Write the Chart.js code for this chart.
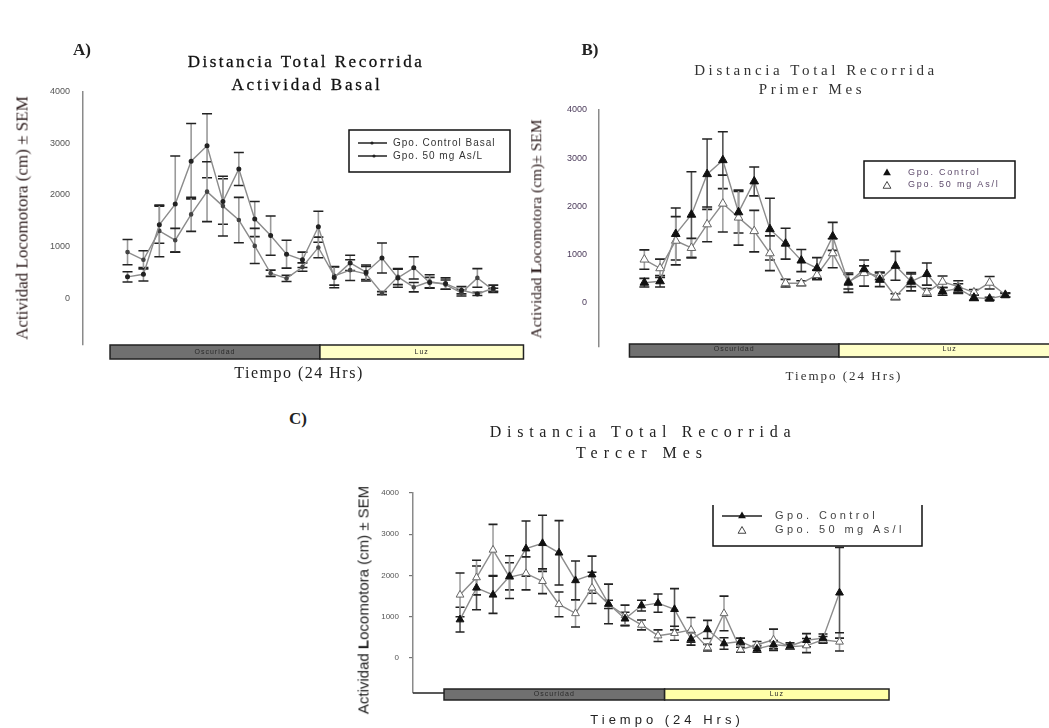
<!DOCTYPE html>
<html><head><meta charset="utf-8">
<script src="https://cdn.jsdelivr.net/npm/chart.js@4.4.1/dist/chart.umd.min.js"></script>
<style>
body{margin:0;width:1049px;height:728px;background:#fff;position:relative;overflow:hidden;}
canvas{position:absolute;}
.t{position:absolute;white-space:nowrap;transform:translate(-50%,-50%);line-height:1;color:#222;}
.rot{transform:translate(-50%,-50%) rotate(-90deg);}
.serif{font-family:"Liberation Serif","DejaVu Serif",serif;}
.sans{font-family:"Liberation Sans",Arial,sans-serif;}
</style></head><body>
<canvas id="cA" width="530" height="400" style="left:0;top:0"></canvas>
<canvas id="cB" width="519" height="400" style="left:530px;top:0"></canvas>
<canvas id="cC" width="600" height="328" style="left:330px;top:400px"></canvas>

<div class="t serif" style="left:82px;top:49px;font-size:17px;font-weight:bold">A)</div>
<div class="t serif" style="left:590px;top:49px;font-size:17px;font-weight:bold">B)</div>
<div class="t serif" style="left:298px;top:418px;font-size:17px;font-weight:bold">C)</div>

<div class="t serif" style="left:306px;top:61px;font-size:17px;letter-spacing:2.5px;color:#111;-webkit-text-stroke:0.3px #111">Distancia Total Recorrida</div>
<div class="t serif" style="left:307px;top:84px;font-size:17px;letter-spacing:2.8px;color:#111;-webkit-text-stroke:0.3px #111">Actividad Basal</div>
<div class="t serif" style="left:816px;top:70px;font-size:15px;letter-spacing:3.6px;color:#333">Distancia Total Recorrida</div>
<div class="t serif" style="left:812px;top:89px;font-size:15px;letter-spacing:3.6px;color:#333">Primer Mes</div>
<div class="t serif" style="left:643px;top:432px;font-size:16px;letter-spacing:5.7px;color:#222">Distancia Total Recorrida</div>
<div class="t serif" style="left:642px;top:453px;font-size:16px;letter-spacing:6px;color:#222">Tercer Mes</div>

<div class="t serif rot" style="left:22px;top:218px;font-size:17px;color:#2b1b1b">Actividad Locomotora (cm) ± SEM</div>
<div class="t serif rot" style="left:536px;top:229px;font-size:15.5px;color:#2b1b1b">Actividad <b>L</b>ocomotora (cm)± SEM</div>
<div class="t sans rot" style="left:363px;top:600px;font-size:15px;color:#222">Actividad <b>L</b>ocomotora (cm) ± SEM</div>

<div class="t serif" style="left:299px;top:373px;font-size:16px;letter-spacing:1.5px;color:#222">Tiempo (24 Hrs)</div>
<div class="t serif" style="left:844px;top:375px;font-size:13px;letter-spacing:2px;color:#333">Tiempo (24 Hrs)</div>
<div class="t sans" style="left:667px;top:719px;font-size:13px;letter-spacing:4px;color:#222">Tiempo (24 Hrs)</div>

<script>
// ---- data ----
const hours = [0,1,2,3,4,5,6,7,8,9,10,11,12,13,14,15,16,17,18,19,20,21,22,23];
const yTickValues = [0,1000,2000,3000,4000];
const yTickLabels = ['0','1000','2000','3000','4000'];
const periodLabels = ['Oscuridad','Luz'];

const aControl    = [410,460,1420,1820,2650,2950,1870,2500,1530,1210,850,740,1380,400,680,500,775,390,585,300,280,150,80,190];
const aControlSem = [100,130,360,930,730,620,440,320,340,380,270,150,300,200,150,140,290,180,215,100,110,70,30,60];
const aTreated    = [890,740,1300,1120,1620,2060,1780,1510,1010,480,380,600,980,430,540,470,95,410,210,320,260,100,390,150];
const aTreatedSem = [245,175,500,230,330,580,580,440,340,60,60,80,200,180,200,140,30,150,90,130,90,60,180,40];
const aPeriodEdges = [-1.1,12.1,24.9];

const bControl    = [420,450,1430,1830,2670,2960,1880,2520,1530,1230,880,720,1380,420,700,480,770,440,600,240,300,110,90,160];
const bControlSem = [90,120,540,890,730,590,430,300,640,320,230,220,290,200,70,140,300,190,230,80,100,60,30,40];
const bTreated    = [900,720,1290,1140,1630,2060,1770,1490,1030,410,410,580,1030,440,620,560,130,470,220,440,340,220,420,170];
const bTreatedSem = [200,190,500,200,360,590,570,430,360,80,50,100,300,150,270,80,60,130,80,120,120,60,130,40];
const bPeriodEdges = [-0.95,12.4,26.5];

const cControl    = [930,1700,1530,1980,2650,2780,2550,1880,2020,1310,950,1270,1330,1180,460,690,350,400,220,320,290,430,480,1580];
const cControlSem = [300,530,450,330,670,680,780,470,450,480,160,130,220,500,150,220,140,80,80,100,80,160,100,1100];
const cTreated    = [1530,1950,2620,1960,2050,1860,1300,1080,1700,1300,1030,800,540,600,680,250,1080,200,320,440,270,300,440,390];
const cTreatedSem = [530,420,620,520,400,300,300,330,380,100,250,120,140,170,300,80,420,60,80,260,60,170,80,220];
const cPeriodEdges = [-0.97,12.4,26.0];

const aLegend = ['Gpo. Control Basal','Gpo. 50 mg As/L'];
const bLegend = ['Gpo. Control','Gpo. 50 mg As/l'];
const cLegend = ['Gpo. Control','Gpo. 50 mg As/l'];

// ---- plugins ----
function tri(ctx, x, y, r, fill, stroke){
  ctx.beginPath();
  for(let k=0;k<3;k++){const a=k*2*Math.PI/3; const px=x+Math.sin(a)*r, py=y-Math.cos(a)*r; k?ctx.lineTo(px,py):ctx.moveTo(px,py);}
  ctx.closePath();
  if(fill){ctx.fillStyle=fill;ctx.fill();}
  if(stroke){ctx.strokeStyle=stroke;ctx.lineWidth=1;ctx.stroke();}
}

const errorBarsPlugin = {
  id:'errorBars',
  beforeDatasetsDraw(chart, args, o){
    const ctx=chart.ctx, xs=chart.scales.x, ys=chart.scales.y;
    ctx.save();
    chart.data.datasets.forEach((ds,di)=>{
      ds.data.forEach((p,i)=>{
        const s=ds.sem[i];
        const x=xs.getPixelForValue(p.x);
        const yt=ys.getPixelForValue(p.y+s), yb=ys.getPixelForValue(p.y-s);
        ctx.strokeStyle=o.barColors[di]; ctx.lineWidth=1.6;
        ctx.beginPath(); ctx.moveTo(x,yt); ctx.lineTo(x,yb); ctx.stroke();
        ctx.strokeStyle=o.capColor; ctx.lineWidth=1.6;
        ctx.beginPath(); ctx.moveTo(x-o.cap,yt); ctx.lineTo(x+o.cap,yt);
        ctx.moveTo(x-o.cap,yb); ctx.lineTo(x+o.cap,yb); ctx.stroke();
      });
    });
    ctx.restore();
  }
};

const periodsPlugin = {
  id:'periods',
  afterDraw(chart, args, o){
    const ctx=chart.ctx, xs=chart.scales.x, ca=chart.chartArea;
    ctx.save();
    if(o.baseLine){ctx.strokeStyle='#222';ctx.lineWidth=1.5;ctx.beginPath();ctx.moveTo(ca.left,ca.bottom);ctx.lineTo(xs.getPixelForValue(o.edges[0]),ca.bottom);ctx.stroke();}
    const y0=ca.bottom+o.dy;
    for(let i=0;i<periodLabels.length;i++){
      const x1=xs.getPixelForValue(o.edges[i]), x2=xs.getPixelForValue(o.edges[i+1]);
      ctx.fillStyle=o.colors[i]; ctx.fillRect(x1,y0,x2-x1,o.h);
      ctx.strokeStyle='#222'; ctx.lineWidth=1.5; ctx.strokeRect(x1,y0,x2-x1,o.h);
      ctx.fillStyle='#2a2a2a'; ctx.font=o.font; ctx.textAlign='center'; ctx.textBaseline='middle';
      try{ctx.letterSpacing='1px';}catch(e){}
      ctx.fillText(periodLabels[i],(x1+x2)/2,y0+o.h/2+o.ty);
    }
    ctx.restore();
  }
};

const boxLegendPlugin = {
  id:'boxLegend',
  afterDraw(chart, args, o){
    const ctx=chart.ctx; const [bx,by,bw,bh]=o.box;
    ctx.save();
    ctx.strokeStyle='#111'; ctx.lineWidth=1.5;
    ctx.beginPath();
    if(o.openTop){ctx.moveTo(bx,by);ctx.lineTo(bx,by+bh);ctx.lineTo(bx+bw,by+bh);ctx.lineTo(bx+bw,by);}
    else {ctx.rect(bx,by,bw,bh);}
    ctx.stroke();
    ctx.font=o.font; ctx.textBaseline='middle'; ctx.textAlign='left';
    try{ctx.letterSpacing=o.ls;}catch(e){}
    o.rows.forEach(r=>{
      if(r.line){ctx.strokeStyle='#222';ctx.lineWidth=1.5;ctx.beginPath();ctx.moveTo(r.line[0],r.y);ctx.lineTo(r.line[1],r.y);ctx.stroke();}
      if(r.m==='dot'){ctx.fillStyle='#222';ctx.beginPath();ctx.arc(r.mx,r.y,1.6,0,Math.PI*2);ctx.fill();}
      if(r.m==='tri'){tri(ctx,r.mx,r.y,o.mr,'#111',null);}
      if(r.m==='otri'){tri(ctx,r.mx,r.y+1,o.mr,'#fff','#444');}
      ctx.fillStyle=o.color; ctx.fillText(r.text,r.tx,r.y);
    });
    ctx.restore();
  }
};

function pts(vals){return hours.map((h,i)=>({x:h,y:vals[i]}));}

function makeChart(id, cfg){
  return new Chart(document.getElementById(id),{
    type:'line',
    data:{datasets:cfg.datasets},
    options:{
      responsive:false, animation:false, devicePixelRatio:1,
      layout:{padding:{left:0,right:cfg.right,top:cfg.top,bottom:cfg.bottom}},
      scales:{
        x:{type:'linear',min:cfg.xmin,max:cfg.xmax,display:false},
        y:{type:'linear',min:cfg.ymin,max:4000,
           afterFit:s=>{s.width=cfg.axisW;},
           afterBuildTicks:s=>{s.ticks=yTickValues.map(v=>({value:v}));},
           ticks:{callback:v=>yTickLabels[yTickValues.indexOf(v)],font:{family:'"Liberation Sans", Arial',size:cfg.tickSize},color:cfg.tickColor,padding:cfg.tickPad},
           grid:{display:cfg.tickMarks,drawOnChartArea:false,drawTicks:cfg.tickMarks,tickLength:4,color:'#777',lineWidth:1.2},
           border:{display:true,color:'#8a8a8a',width:1.5}}
      },
      plugins:{legend:{display:false},tooltip:{enabled:false},
        errorBars:cfg.errorBars, periods:cfg.periods, boxLegend:cfg.legend}
    },
    plugins:[errorBarsPlugin,periodsPlugin,boxLegendPlugin]
  });
}

const lineC='#8c8c8c';

// Panel A
makeChart('cA',{
  top:91.5,bottom:55.5,right:0,axisW:83,xmin:-2.8,xmax:24.97,ymin:-900,tickSize:9,tickColor:'#555',tickPad:13,tickMarks:false,
  datasets:[
    {label:aLegend[0],data:pts(aControl),sem:aControlSem,borderColor:lineC,borderWidth:1.4,pointRadius:1.8,pointBackgroundColor:'#222',pointBorderColor:'#222',tension:0},
    {label:aLegend[1],data:pts(aTreated),sem:aTreatedSem,borderColor:lineC,borderWidth:1.4,pointRadius:1.6,pointBackgroundColor:'#444',pointBorderColor:'#444',tension:0}
  ],
  errorBars:{barColors:['#9a9a9a','#9a9a9a'],capColor:'#222',cap:5},
  periods:{edges:aPeriodEdges,colors:['#707070','#ffffc8'],dy:0.5,h:14,font:'7px "Liberation Sans"',ty:0},
  legend:{box:[349,130,161,42],openTop:false,font:'10px "Liberation Sans"',ls:'1px',color:'#333',mr:0,
    rows:[{y:143,line:[358,387],m:'dot',mx:372,text:aLegend[0],tx:393},{y:156,line:[358,387],m:'dot',mx:374,text:aLegend[1],tx:393}]}
});

// Panel B
makeChart('cB',{
  top:110,bottom:53.6,right:0,axisW:69,xmin:-2.89,xmax:25.4,ymin:-900,tickSize:9,tickColor:'#4a3a5a',tickPad:12,tickMarks:false,
  datasets:[
    {label:bLegend[0],data:pts(bControl),sem:bControlSem,borderColor:lineC,borderWidth:1.4,pointStyle:'triangle',pointRadius:5,pointBackgroundColor:'#111',pointBorderColor:'#111',pointBorderWidth:1,tension:0},
    {label:bLegend[1],data:pts(bTreated),sem:bTreatedSem,borderColor:lineC,borderWidth:1.4,pointStyle:'triangle',pointRadius:5,pointBackgroundColor:'#fff',pointBorderColor:'#666',pointBorderWidth:1,tension:0}
  ],
  errorBars:{barColors:['#555','#a0a0a0'],capColor:'#222',cap:5},
  periods:{edges:bPeriodEdges,colors:['#707070','#ffffc8'],dy:-2.4,h:13,font:'7px "Liberation Sans"',ty:-1},
  legend:{box:[334,161,151,37],openTop:false,font:'9px "Liberation Sans"',ls:'1.8px',color:'#5d4a6b',mr:4.5,
    rows:[{y:173,m:'tri',mx:357,text:bLegend[0],tx:378},{y:185,m:'otri',mx:357,text:bLegend[1],tx:378}]}
});

// Panel C
makeChart('cC',{
  top:93,bottom:35,right:40,axisW:83,xmin:-2.85,xmax:26.06,ymin:-850,tickSize:8,tickColor:'#555',tickPad:10,tickMarks:true,
  datasets:[
    {label:cLegend[0],data:pts(cControl),sem:cControlSem,borderColor:lineC,borderWidth:1.4,pointStyle:'triangle',pointRadius:4.5,pointBackgroundColor:'#111',pointBorderColor:'#111',pointBorderWidth:1,tension:0},
    {label:cLegend[1],data:pts(cTreated),sem:cTreatedSem,borderColor:lineC,borderWidth:1.4,pointStyle:'triangle',pointRadius:4.5,pointBackgroundColor:'#fff',pointBorderColor:'#666',pointBorderWidth:1,tension:0}
  ],
  errorBars:{barColors:['#555','#a0a0a0'],capColor:'#222',cap:4.5},
  periods:{edges:cPeriodEdges,colors:['#707070','#ffffa8'],dy:-4,h:11,font:'7px "Liberation Sans"',ty:0,baseLine:true},
  legend:{box:[383,105,209,41],openTop:true,font:'11px "Liberation Sans"',ls:'3.4px',color:'#444',mr:4.5,
    rows:[{y:116,line:[392,432],m:'tri',mx:412,text:cLegend[0],tx:445},{y:130,m:'otri',mx:412,text:cLegend[1],tx:445}]}
});
</script>
</body></html>
